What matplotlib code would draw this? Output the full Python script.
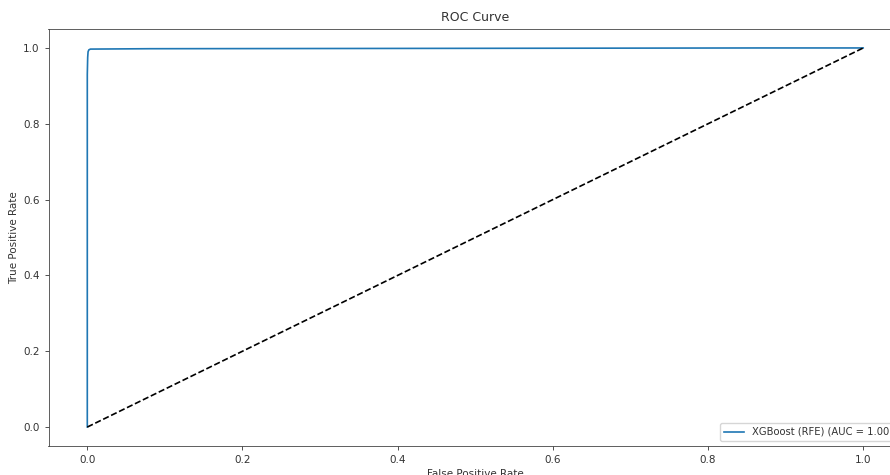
import matplotlib
matplotlib.use("Agg")
import matplotlib.pyplot as plt

fpr = [0.0, 0.0, 0.0005, 0.001, 0.002, 0.004, 0.08, 0.5, 0.87, 1.0]
tpr = [0.0, 0.93, 0.975, 0.99, 0.995, 0.997, 0.998, 0.999, 1.0, 1.0]
diag_x = [0, 1]
diag_y = [0, 1]
label = "XGBoost (RFE) (AUC = 1.00)"

txt = "#333333"
plt.rcParams.update({"text.color": txt, "axes.labelcolor": txt,
                     "xtick.color": txt, "ytick.color": txt,
                     "axes.edgecolor": "#444444"})

W, H = 890, 475
fig = plt.figure(figsize=(W / 100, H / 100), dpi=100)
left, right, top, bottom = 48.5, 902.0, 29.0, 446.0
ax = fig.add_axes([left / W, 1 - bottom / H, (right - left) / W, (bottom - top) / H])

ax.plot(fpr, tpr, color="#1f77b4", lw=1.2, label=label)
ax.plot(diag_x, diag_y, "k--", lw=1.2)
ax.set_xlim(-0.05, 1.05)
ax.set_ylim(-0.05, 1.05)
ax.set_xlabel("False Positive Rate", fontsize=7.5, labelpad=3)
ax.set_ylabel("True Positive Rate", fontsize=7.5, labelpad=3)
ax.set_title("ROC Curve", fontsize=9, pad=6)
ax.tick_params(labelsize=7.5, length=3, width=0.6)
for s in ax.spines.values():
    s.set_linewidth(0.6)
ax.legend(loc="lower right", fontsize=7.2)
fig.savefig("out.png", dpi=100)
